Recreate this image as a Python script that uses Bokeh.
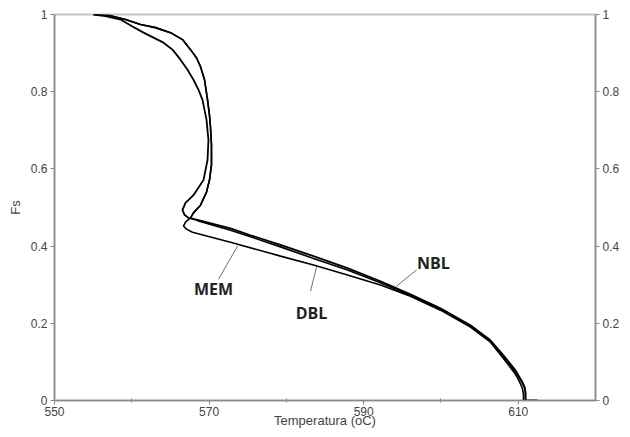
import math
from bokeh.plotting import figure
from bokeh.models import FixedTicker, LinearAxis, Range1d, Label
from bokeh.embed import file_html
from bokeh.resources import INLINE

# ---- data (Temperatura oC, Fs) ----
nbl_t = [555.05, 556.60, 558.54, 560.09, 561.52, 562.81, 564.10, 565.27, 566.30, 567.21,
         567.98, 568.63, 569.15, 569.67, 569.92, 569.80, 569.28, 567.98, 566.95, 566.56,
         566.82, 567.34, 568.5, 572.77, 575.36, 579.24, 583.51, 587.91, 592.18, 596.06,
         599.94, 603.82, 606.41, 608.09, 609.65, 610.42, 610.81, 610.94, 610.94, 612.5]
nbl_fs = [1.0, 0.996, 0.987, 0.969, 0.953, 0.940, 0.927, 0.909, 0.883, 0.857,
          0.831, 0.805, 0.779, 0.727, 0.675, 0.623, 0.571, 0.532, 0.512, 0.494,
          0.481, 0.473, 0.468, 0.446, 0.428, 0.403, 0.374, 0.343, 0.309, 0.275,
          0.239, 0.195, 0.156, 0.117, 0.078, 0.052, 0.036, 0.021, 0.0, 0.0]

mem_t = [555.05, 557.25, 559.19, 561.13, 563.07, 565.01, 566.56, 567.60, 568.37, 568.89,
         569.41, 569.80, 570.05, 570.18, 570.31, 570.31, 570.05, 569.67, 568.89, 567.98,
         567.60, 566.95, 566.69, 567.08, 567.85, 572.77, 579.24, 583.51, 587.91, 592.18,
         596.06, 599.94, 603.82, 606.41, 608.09, 609.65, 610.16, 610.55, 610.68, 610.68]
mem_fs = [1.0, 0.997, 0.987, 0.974, 0.966, 0.953, 0.935, 0.909, 0.888, 0.865,
          0.831, 0.779, 0.740, 0.709, 0.663, 0.610, 0.571, 0.540, 0.506, 0.486,
          0.473, 0.462, 0.452, 0.444, 0.436, 0.410, 0.374, 0.351, 0.325, 0.299,
          0.270, 0.234, 0.190, 0.151, 0.109, 0.068, 0.049, 0.031, 0.016, 0.0]

dbl_t = [555.05, 557.25, 559.19, 561.13, 563.07, 565.01, 566.56, 567.60, 568.37, 568.89,
         569.41, 569.80, 570.05, 570.18, 570.31, 570.31, 570.05, 569.67, 568.89, 567.98,
         567.60, 568.5, 572.77, 575.36, 579.24, 583.51, 587.91, 592.18, 596.06, 599.94,
         603.82, 606.41, 608.09, 609.65, 610.42, 610.81, 610.94, 610.94]
dbl_fs = [1.0, 0.997, 0.987, 0.974, 0.966, 0.953, 0.935, 0.909, 0.888, 0.865,
          0.831, 0.779, 0.740, 0.709, 0.663, 0.610, 0.571, 0.540, 0.506, 0.486,
          0.473, 0.466, 0.441, 0.424, 0.398, 0.368, 0.338, 0.305, 0.272, 0.237,
          0.193, 0.154, 0.114, 0.074, 0.050, 0.034, 0.020, 0.0]

x_ticks = [550, 570, 590, 610]
x_minor = [560, 580, 600]
y_ticks = [0, 0.2, 0.4, 0.6, 0.8, 1]
y_labels = ["0", "0.2", "0.4", "0.6", "0.8", "1"]

# callout labels (annotation positions)
lab_text = ["MEM", "DBL", "NBL"]
lab_x = [570.57, 583.25, 599.04]
lab_y = [0.288, 0.226, 0.356]
ptr_x0 = [571.22, 583.12, 596.84]
ptr_y0 = [0.314, 0.283, 0.338]
ptr_x1 = [573.68, 583.90, 594.12]
ptr_y1 = [0.400, 0.345, 0.294]

AX = "#8a8a8a"
TXT = "#444444"
FONT = "Liberation Sans"

p = figure(width=630, height=437, x_range=Range1d(550, 620), y_range=Range1d(0, 1),
           output_backend="svg", toolbar_location=None,
           min_border_left=54, min_border_right=35, min_border_top=14, min_border_bottom=37)
p.xgrid.visible = False
p.ygrid.visible = False
p.outline_line_color = "#c4c4c4"
p.outline_line_width = 2
p.background_fill_color = "white"
p.border_fill_color = "white"

overrides = {v: s for v, s in zip(y_ticks, y_labels)}


def style_axis(ax):
    ax.axis_line_color = AX
    ax.axis_line_width = 1.5
    ax.major_tick_line_color = AX
    ax.minor_tick_line_color = AX
    ax.major_tick_out = 4
    ax.major_tick_in = 0
    ax.major_label_text_font = FONT
    ax.major_label_text_font_size = "12px"
    ax.major_label_text_color = TXT
    ax.axis_label_text_font = FONT
    ax.axis_label_text_font_size = "13px"
    ax.axis_label_text_font_style = "normal"
    ax.axis_label_text_color = TXT


xa = p.xaxis[0]
xa.ticker = FixedTicker(ticks=x_ticks, minor_ticks=x_minor)
xa.axis_label = "Temperatura (oC)"
xa.minor_tick_in = 2
xa.minor_tick_out = 2
xa.major_label_standoff = 2
xa.axis_label_standoff = -6
style_axis(xa)

ya = p.yaxis[0]
ya.ticker = FixedTicker(ticks=y_ticks)
ya.major_label_overrides = overrides
ya.axis_label = "Fs"
ya.minor_tick_line_color = None
ya.major_label_standoff = 3
style_axis(ya)

ra = LinearAxis(ticker=FixedTicker(ticks=y_ticks), major_label_overrides=overrides)
style_axis(ra)
ra.minor_tick_line_color = None
ra.major_label_standoff = 3
p.add_layout(ra, "right")

# right axis title, placed at the page's right edge as in the reference
p.add_layout(Label(x=623.3, y=0.48, text="Fs", angle=math.pi / 2, text_align="center",
                   text_baseline="middle", text_font=FONT, text_font_size="13px",
                   text_color=TXT))

p.line(nbl_t, nbl_fs, line_color="black", line_width=1.8)
p.line(dbl_t, dbl_fs, line_color="black", line_width=1.6)
p.line(mem_t, mem_fs, line_color="black", line_width=1.6)

p.segment(x0=ptr_x0, y0=ptr_y0, x1=ptr_x1, y1=ptr_y1, line_color="#707070", line_width=1)
for t, lx, ly in zip(lab_text, lab_x, lab_y):
    p.add_layout(Label(x=lx, y=ly, text=t, text_align="center", text_baseline="middle",
                       text_font="Open Sans", text_font_style="bold", text_font_size="16px",
                       text_color="#222222"))

open("out.html", "w").write(file_html(p, INLINE))
